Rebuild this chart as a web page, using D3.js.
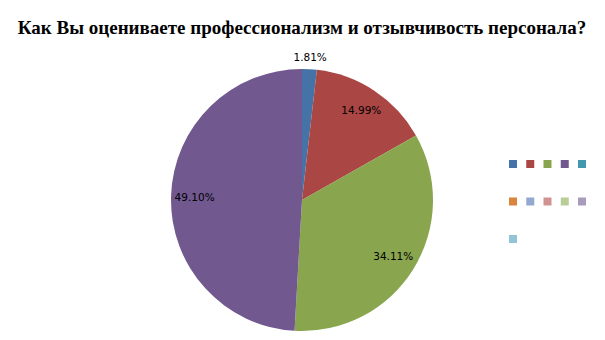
<!DOCTYPE html>
<html>
<head>
<meta charset="utf-8">
<script src="https://cdn.jsdelivr.net/npm/d3@7"></script>
<style>
  body { margin: 0; background: #fff; }
  svg { display: block; }
</style>
</head>
<body>
<script>
// Chart size
var svgWidth = 605;
var svgHeight = 340;

// Data (legend has 11 entries, only 4 carry a value)
var titleText = "Как Вы оцениваете профессионализм и отзывчивость персонала?";
var categories = ["", "", "", "", "", "", "", "", "", "", ""];
var values = [1.81, 14.99, 34.11, 49.10, 0, 0, 0, 0, 0, 0, 0];
var colors = ["#4572A7", "#AA4643", "#89A54E", "#71588F", "#4198AF",
  "#DB843D", "#93A9CF", "#D19392", "#B9CD96", "#A99BBD", "#92C5D6"];

var svg = d3.select("body")
  .append("svg")
  .attr("width", svgWidth)
  .attr("height", svgHeight);

// Title
svg.append("text")
  .attr("x", 302)
  .attr("y", 34)
  .attr("text-anchor", "middle")
  .style("font-family", "'Liberation Serif', 'Times New Roman', serif")
  .style("font-weight", "bold")
  .style("font-size", "19px")
  .style("fill", "#000")
  .text(titleText);

// Pie
var radius = 131;
var pieGroup = svg.append("g")
  .attr("transform", "translate(302, 200)");

var pie = d3.pie().sort(null).value(d => d.value);
var arcs = pie(values.map((v, i) => ({ value: v, i: i })));

var drawArc = d3.arc().innerRadius(0).outerRadius(radius);
var innerLabel = d3.arc().innerRadius(radius * 0.82).outerRadius(radius * 0.82);
var outerLabel = d3.arc().innerRadius(radius + 12).outerRadius(radius + 12);

pieGroup.selectAll("path")
  .data(arcs)
  .enter()
  .append("path")
  .attr("d", drawArc)
  .attr("fill", d => colors[d.data.i]);

pieGroup.selectAll("text.label")
  .data(arcs.filter(d => d.data.value > 0))
  .enter()
  .append("text")
  .classed("label", true)
  .attr("transform", function(d) {
    var c = d.data.value < 5 ? outerLabel.centroid(d) : innerLabel.centroid(d);
    return "translate(" + c + ")";
  })
  .attr("text-anchor", "middle")
  .attr("dy", "0.35em")
  .style("font-family", "'DejaVu Sans', Verdana, sans-serif")
  .style("font-size", "10.5px")
  .style("fill", "#000")
  .text(d => d.data.value.toFixed(2) + "%");

// Legend: 5 per row, colour squares only
var legendX = d3.scalePoint().domain(d3.range(5)).range([509, 578]);
var legendY = d3.scalePoint().domain(d3.range(3)).range([160, 235]);

var legend = svg.append("g");
legend.selectAll("rect")
  .data(categories)
  .enter()
  .append("rect")
  .attr("x", (d, i) => legendX(i % 5))
  .attr("y", (d, i) => legendY(Math.floor(i / 5)))
  .attr("width", 8)
  .attr("height", 8)
  .attr("fill", (d, i) => colors[i]);

legend.selectAll("text")
  .data(categories)
  .enter()
  .append("text")
  .attr("x", (d, i) => legendX(i % 5) + 10)
  .attr("y", (d, i) => legendY(Math.floor(i / 5)) + 8)
  .style("font-size", "10px")
  .text(d => d);
</script>
</body>
</html>
